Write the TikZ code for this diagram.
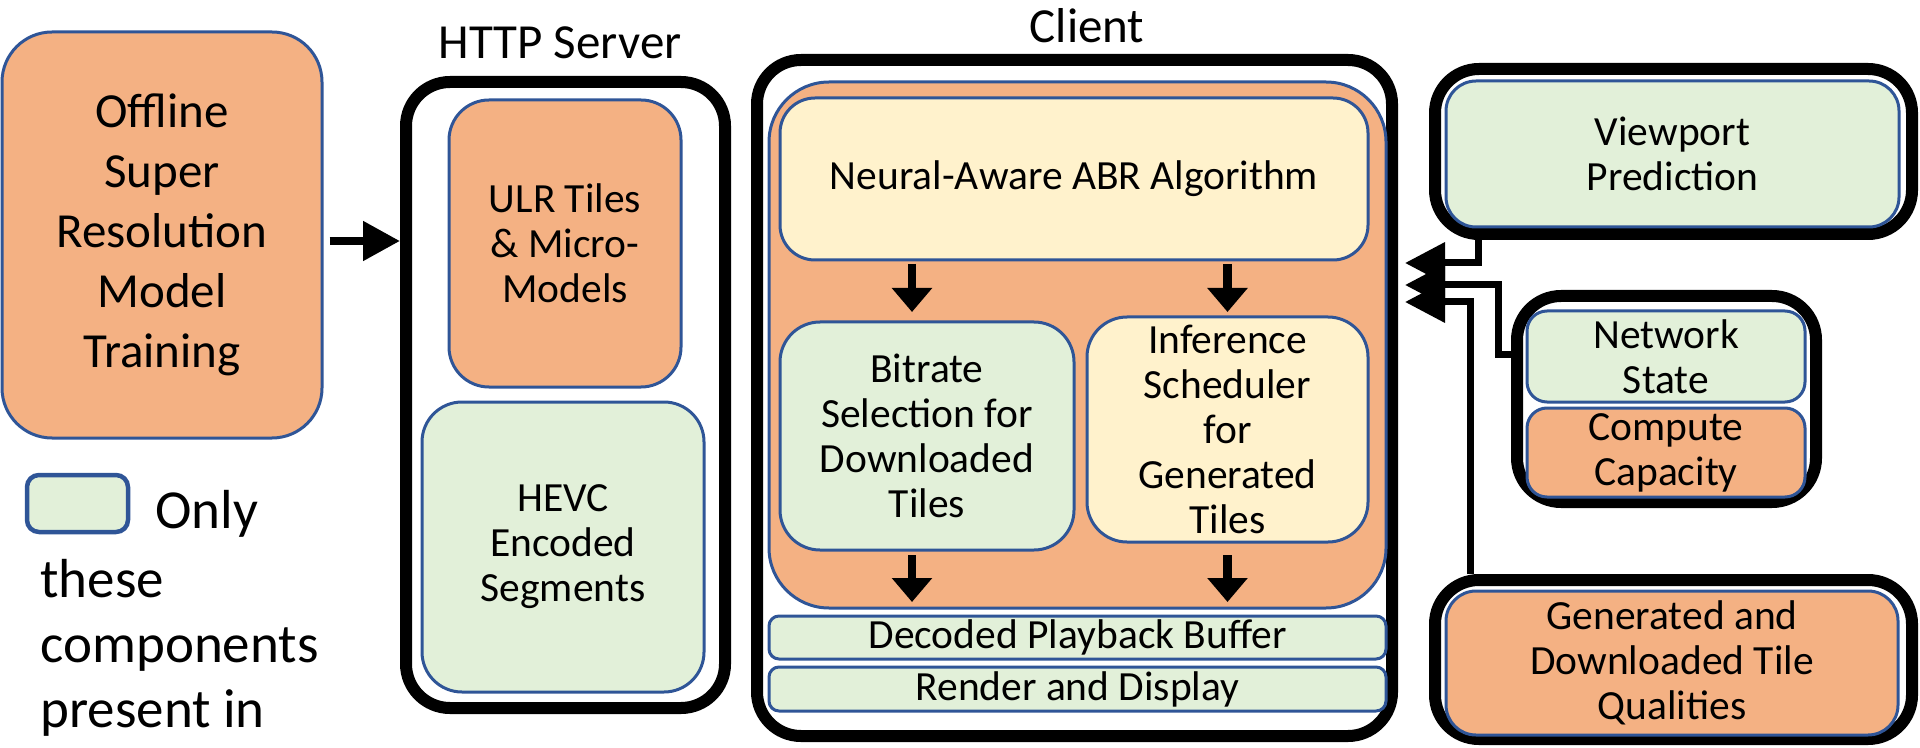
\documentclass[tikz,border=0pt]{standalone}
\usepackage{fontspec}
\setmainfont{Carlito}
\usetikzlibrary{arrows.meta}
\definecolor{orng}{HTML}{F4B183}
\definecolor{grn}{HTML}{E2F0D9}
\definecolor{ylw}{HTML}{FFF2CC}
\definecolor{edge}{HTML}{2F5597}

\begin{document}
\begin{tikzpicture}[
        x=0.5pt, y=-0.5pt,
        part/.style={draw=edge, line width=1.5pt, rounded corners=#1, inner sep=0pt,
            align=center, font=\fontsize{20.75}{22.5}\selectfont},
        part/.default=20pt,
        shell/.style={draw=black, line width=6pt, rounded corners=22pt, inner sep=0pt},
        sidearr/.style={line width=3.5pt, -{Triangle[length=20pt,width=20pt]}},
        dnarr/.style={line width=4.25pt, -{Triangle[length=12pt,width=19.5pt]}},
        keytext/.style={anchor=base west, inner sep=0pt, font=\fontsize{27.5}{32.5}\selectfont},
        title/.style={anchor=base, inner sep=0pt, font=\fontsize{24.5}{29}\selectfont}
    ]
    \useasboundingbox (0,0) rectangle (1920,748);

    % black shells
    \node[shell, minimum width=159.5pt, minimum height=313pt] (server) at (565.5,395) {};
    \node[shell, minimum width=317.5pt, minimum height=338pt] (client) at (1074.5,398) {};
    \node[shell, minimum width=238.5pt, minimum height=82.5pt] (viewbox) at (1673.5,151.5) {};
    \node[shell, minimum width=149.5pt, minimum height=103pt] (resbox) at (1666.5,399) {};
    \node[shell, minimum width=238.5pt, minimum height=79.5pt] (qualbox) at (1673.5,659.5) {};

    \node[title] (servertitle) at (560,59) {HTTP Server};
    \node[title] (clienttitle) at (1087,43) {Client};

    % components
    \node[part=25pt, fill=orng, minimum width=160pt, minimum height=203pt,
        font=\fontsize{24.5}{30}\selectfont] (train) at (162,235)
        {Offline\\Super\\Resolution\\Model\\Training};
    \node[part, fill=orng, minimum width=116pt, minimum height=143.5pt] (ulr) at (565,243.5)
        {ULR Tiles\\\& Micro-\\Models};
    \node[part, fill=grn, minimum width=141pt, minimum height=145pt] (hevc) at (563,547)
        {HEVC\\Encoded\\Segments};
    \node[part=30pt, fill=orng, minimum width=308.5pt, minimum height=263pt] (core) at (1077.5,345) {};
    \node[part=17.5pt, fill=ylw, minimum width=294pt, minimum height=81pt] (abr) at (1074,179)
        {Neural-Aware ABR Algorithm};
    \node[part, fill=grn, minimum width=147pt, minimum height=114pt] (bitrate) at (927,436)
        {Bitrate\\Selection for\\Downloaded\\Tiles};
    \node[part, fill=ylw, minimum width=140.5pt, minimum height=112.5pt] (sched) at (1227.5,429.5)
        {Inference\\Scheduler\\for\\Generated\\Tiles};
    \node[part=5pt, fill=grn, minimum width=308.5pt, minimum height=21.5pt] (buffer) at (1077.5,637.5)
        {Decoded Playback Buffer};
    \node[part=5pt, fill=grn, minimum width=308.5pt, minimum height=22pt] (render) at (1077.5,689)
        {Render and Display};
    \node[part=15pt, fill=grn, minimum width=226.5pt, minimum height=73pt] (view) at (1672.5,154)
        {Viewport\\Prediction};
    \node[part=10pt, fill=grn, minimum width=139pt, minimum height=45.5pt] (net) at (1666,356.5)
        {Network\\State};
    \node[part=10pt, fill=orng, minimum width=139pt, minimum height=44.5pt] (comp) at (1666,452.5)
        {Compute\\Capacity};
    \node[part=15pt, fill=orng, minimum width=226pt, minimum height=72pt] (qual) at (1672,663)
        {Generated and\\Downloaded Tile\\Qualities};

    % legend
    \node[part=6pt, fill=grn, line width=2.25pt, minimum width=50.5pt, minimum height=28.5pt] (key) at (77.5,503.5) {};
    \node[keytext] (only) at (155,528) {Only};
    \foreach \txt [count=\i] in {these,components,present in}
        \node[keytext] (keyline\i) at (40,532+65*\i) {\txt};

    % arrows
    \draw[line width=4pt, -{Triangle[length=18.5pt,width=19pt]}]
        ([xshift=3pt,yshift=-3pt]train.east) -- ([yshift=-3pt]train.east -| server.west);

    \coordinate (bx) at ([xshift=-7.5pt]bitrate.north);
    \coordinate (by) at ([xshift=-7.5pt]bitrate.south);
    \draw[dnarr, shorten <=1.25pt, shorten >=4.25pt] (bx |- abr.south) -- (bx);
    \draw[dnarr, shorten <=1.25pt, shorten >=1.75pt] (sched.north |- abr.south) -- (sched.north);
    \draw[dnarr, shorten <=1.75pt, shorten >=6.25pt] (by) -- (by |- buffer.north);
    \draw[dnarr, shorten <=5.75pt, shorten >=6.25pt] (sched.south) -- (sched.south |- buffer.north);

    \coordinate (ce) at ([xshift=3.5pt]client.east);
    \draw[sidearr] ([xshift=-97.75pt]viewbox.south) |- (ce |- 0,263);
    \draw[sidearr] ([yshift=22pt]resbox.west) -- ++(-6.5pt,0) |- (ce |- 0,285);
    \draw[sidearr] ([xshift=-101.75pt]qualbox.north) |- (ce |- 0,302);
\end{tikzpicture}
\end{document}
